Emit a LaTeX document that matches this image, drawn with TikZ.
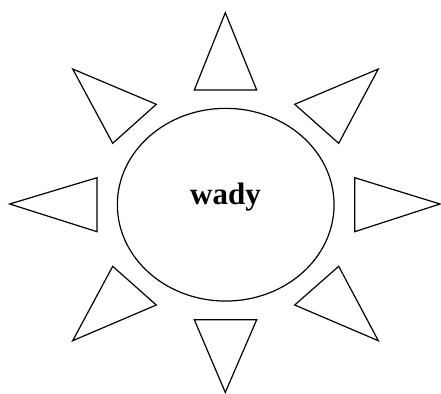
\documentclass[tikz,border=0pt]{standalone}
\usepackage{fontspec}
\setmainfont{Liberation Serif}
\usetikzlibrary{shapes.geometric}
\begin{document}
\begin{tikzpicture}[x=1pt,y=-1pt,
  ray/.style={draw=black,line width=1.2pt,line join=miter},
  sun/.style={draw=black,line width=1.2pt,ellipse,minimum width=216.7pt,minimum height=192.7pt,inner sep=0pt},
  lbl/.style={font=\bfseries\fontsize{31}{37}\selectfont,inner sep=0pt}]
\useasboundingbox (0,0) rectangle (441,393);
\node[sun] (core) at (225.7,204.7) {};
\node[lbl,anchor=base] (word) at (225.5,204) {wady};
% rays
\draw[ray] (225.3,12.7) -- (194.3,90) -- (256.7,90) -- cycle;
\draw[ray] (72.7,69) -- (156.3,104.3) -- (112.7,143.3) -- cycle;
\draw[ray] (378.3,69) -- (294.7,104.3) -- (338.7,143.3) -- cycle;
\draw[ray] (9.7,204) -- (97,177.7) -- (97,231.7) -- cycle;
\draw[ray] (440,204) -- (354.7,177.7) -- (354.7,231.7) -- cycle;
\draw[ray] (112.7,266.3) -- (156.3,305) -- (72.7,340.7) -- cycle;
\draw[ray] (338.7,266.3) -- (294.7,305) -- (378.3,340.7) -- cycle;
\draw[ray] (194.3,319.7) -- (256.7,319.7) -- (225.3,392.4) -- cycle;
\end{tikzpicture}
\end{document}
